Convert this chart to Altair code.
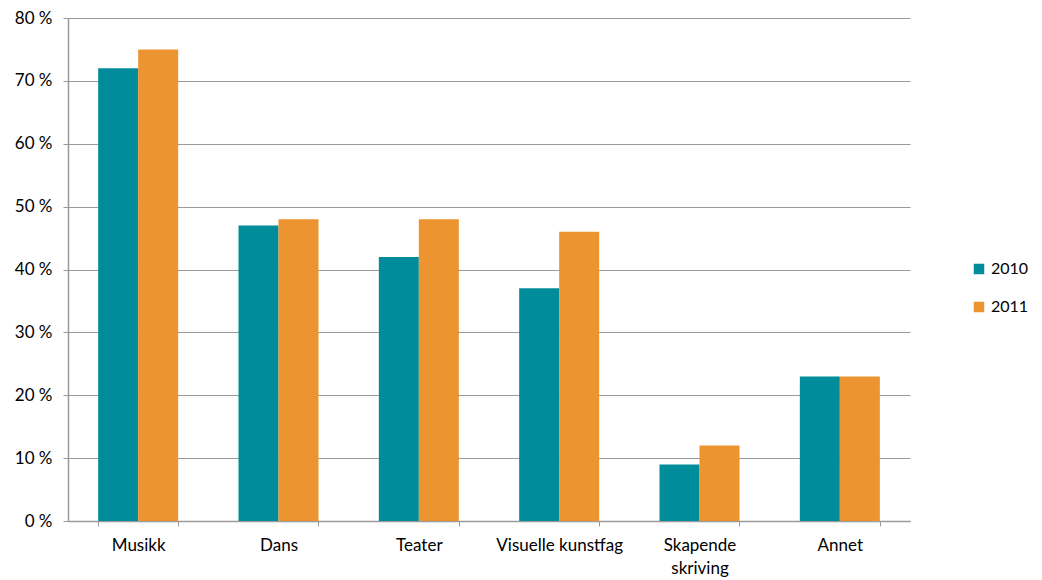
import altair as alt
import pandas as pd

categories = ["Musikk", "Dans", "Teater", "Visuelle kunstfag", "Skapende skriving", "Annet"]
values_2010 = [72, 47, 42, 37, 9, 23]
values_2011 = [75, 48, 48, 46, 12, 23]
series = ["2010", "2011"]

rows = []
for c, a, b in zip(categories, values_2010, values_2011):
    rows.append({"kategori": c, "år": "2010", "verdi": a})
    rows.append({"kategori": c, "år": "2011", "verdi": b})
df = pd.DataFrame(rows)

FONT = "Lato"
FS = 17
AXIS_GRAY = "#9a9a9a"

chart = alt.Chart(df).mark_bar().encode(
    x=alt.X("kategori:N", sort=categories, title=None,
            scale=alt.Scale(paddingInner=0.43, paddingOuter=0.215),
            axis=alt.Axis(labelAngle=0, tickBand="extent", tickSize=5,
                          tickColor=AXIS_GRAY, domainColor=AXIS_GRAY, domainWidth=1.5,
                          labelFont=FONT, labelFontSize=FS, labelColor="#000",
                          labelPadding=11, labelLineHeight=23, labelLimit=200,
                          labelExpr="datum.label == 'Skapende skriving' ? ['Skapende','skriving'] : datum.label")),
    xOffset=alt.XOffset("år:N", sort=series),
    y=alt.Y("verdi:Q", title=None,
            scale=alt.Scale(domain=[0, 80], nice=False),
            axis=alt.Axis(values=list(range(0, 81, 10)), tickSize=5, tickColor=AXIS_GRAY,
                          domainColor=AXIS_GRAY, domainWidth=1.5, gridColor=AXIS_GRAY,
                          gridWidth=1.2, labelFont=FONT, labelFontSize=FS, labelColor="#000",
                          labelPadding=11, labelExpr="datum.value + ' %'")),
    color=alt.Color("år:N", sort=series, title=None,
                    scale=alt.Scale(domain=series, range=["#008C9A", "#EC9430"]),
                    legend=alt.Legend(orient="none", legendX=903, legendY=243,
                                      symbolType="square", symbolSize=110, symbolStrokeWidth=0,
                                      labelFont=FONT, labelFontSize=16, labelColor="#000",
                                      rowPadding=22, labelOffset=4, labelLimit=100)),
).properties(
    width=842, height=503,
    autosize=alt.AutoSizeParams(type="none"),
    padding={"left": 60, "top": 10, "right": 124, "bottom": 58},
).configure_view(stroke=None).configure_axis(grid=True).configure_axisX(grid=False)

chart.save("out.html", embed_options={"renderer": "svg", "actions": False})
